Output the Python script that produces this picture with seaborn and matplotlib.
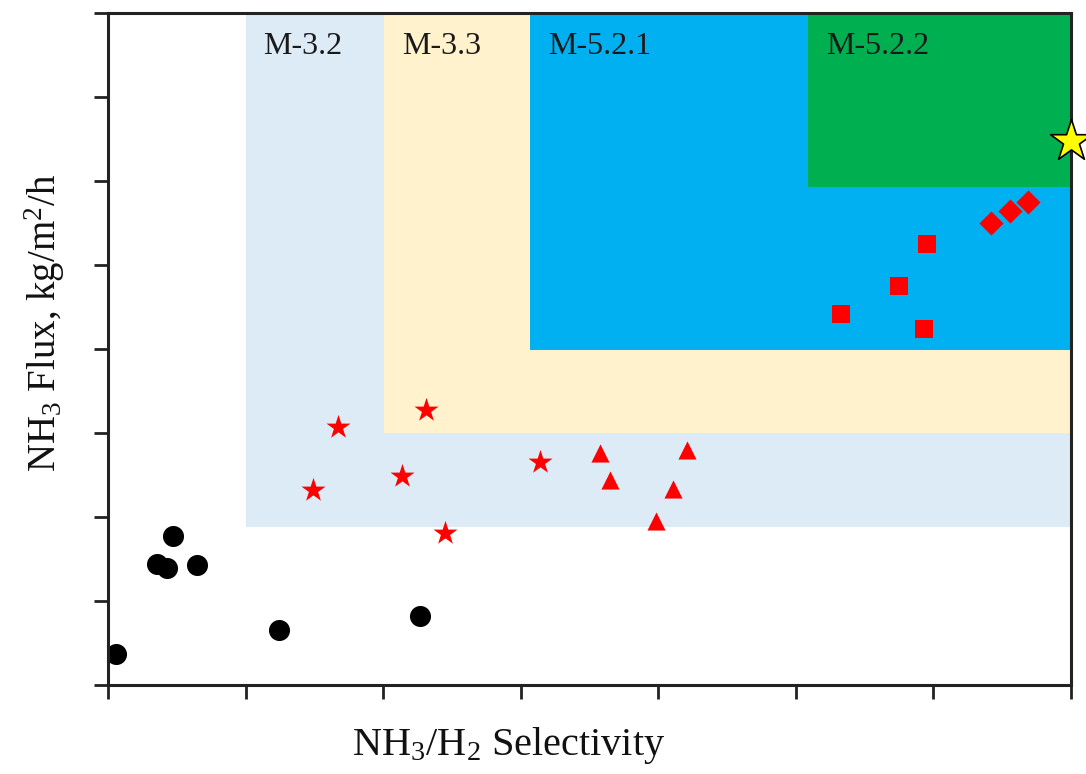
import matplotlib
matplotlib.use("Agg")
import matplotlib.pyplot as plt
import seaborn as sns
import pandas as pd
from matplotlib.patches import Rectangle

# Data (arbitrary units)
circle_x = [0.06, 0.36, 0.43, 0.47, 0.65, 1.24, 2.27]
circle_y = [0.37, 1.44, 1.39, 1.77, 1.43, 0.65, 0.82]
star_x = [1.49, 1.67, 2.14, 2.31, 2.45, 3.14]
star_y = [2.32, 3.07, 2.49, 3.27, 1.81, 2.65]
tri_x = [3.58, 3.65, 3.98, 4.11, 4.21]
tri_y = [2.76, 2.44, 1.95, 2.33, 2.80]
sq_x = [5.33, 5.75, 5.95, 5.93]
sq_y = [4.42, 4.75, 5.25, 4.24]
dia_x = [6.42, 6.56, 6.69]
dia_y = [5.50, 5.64, 5.75]
target_x = [7.0]
target_y = [6.48]

regions = ["M-3.2", "M-3.3", "M-5.2.1", "M-5.2.2"]
region_x0 = [1.0, 2.01, 3.07, 5.09]
region_y0 = [1.88, 3.0, 3.99, 5.93]
region_colors = ["#DDEBF7", "#FFF2CC", "#00B0F0", "#00B050"]

sns.set_theme(style="ticks")
plt.rcParams['font.family'] = ['Liberation Serif', 'DejaVu Serif']
plt.rcParams['mathtext.fontset'] = 'custom'
plt.rcParams['mathtext.rm'] = 'Liberation Serif'
plt.rcParams['mathtext.it'] = 'Liberation Serif:italic'

fig = plt.figure(figsize=(10.86, 7.74), dpi=100)
ax = fig.add_axes([0.0994, 0.115, 0.8868, 0.868])
ax.set_xlim(0, 7)
ax.set_ylim(0, 8)

for name, x0, y0, c in zip(regions, region_x0, region_y0, region_colors):
    ax.add_patch(Rectangle((x0, y0), 7 - x0, 8 - y0, facecolor=c, edgecolor="none", zorder=0))
    ax.text(x0 + 0.13, 7.6, name, fontsize=23, color="#1a1a1a", va="center", ha="left", zorder=1)

def sc(xs, ys, marker, color, s, **kw):
    df = pd.DataFrame({"x": xs, "y": ys})
    sns.scatterplot(data=df, x="x", y="y", marker=marker, color=color, s=s, ax=ax,
                    linewidth=0, zorder=3, **kw)

sc(circle_x, circle_y, "o", "black", 230)
sc(star_x, star_y, "*", "#FF0000", 330)
sc(tri_x, tri_y, "^", "#FF0000", 170)
sc(sq_x, sq_y, "s", "#FF0000", 150)
sc(dia_x, dia_y, "D", "#FF0000", 150)
df = pd.DataFrame({"x": target_x, "y": target_y})
sns.scatterplot(data=df, x="x", y="y", marker="*", color="#FFFF00", s=1000, ax=ax,
                edgecolor="black", linewidth=1.2, zorder=5, clip_on=False)

ax.set_xticks(range(0, 8))
ax.set_yticks(range(0, 9))
ax.set_xticklabels([])
ax.set_yticklabels([])
ax.tick_params(direction="out", length=10, width=2, color="#222222")
for sp in ax.spines.values():
    sp.set_linewidth(2.2)
    sp.set_color("#222222")
    sp.set_zorder(4)

ax.set_xlabel("NH$_3$/H$_2$ Selectivity", fontsize=29, color="#111111")
ax.set_ylabel("NH$_3$ Flux, kg/m$^2$/h", fontsize=28, color="#111111")
ax.xaxis.set_label_coords(0.416, -0.060)
ax.yaxis.set_label_coords(-0.042, 0.539)

fig.savefig("out.png", dpi=100)
